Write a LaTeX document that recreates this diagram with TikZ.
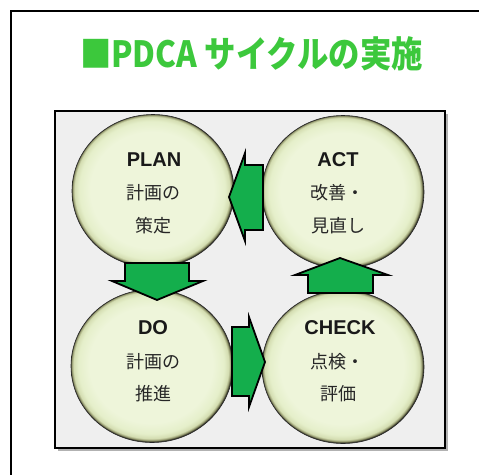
\documentclass[tikz,border=0pt]{standalone}
\usepackage{fontspec}
\setmainfont{Liberation Sans}
\newfontfamily\jp{Noto Sans CJK JP}
\usetikzlibrary{shapes.geometric}
\definecolor{titlegreen}{HTML}{3CC83C}
\definecolor{arrowgreen}{HTML}{14AE4C}
\definecolor{panelgrey}{HTML}{EFEFEF}
\definecolor{cA}{HTML}{EEF5DA}
\definecolor{cB}{HTML}{E5EFCA}
\definecolor{cC}{HTML}{D3DCB0}
\definecolor{cE}{HTML}{8C9066}
\definecolor{cD}{HTML}{2A2A1E}
\pgfdeclareradialshading{ballg}{\pgfpoint{-0.5bp}{0.5bp}}{%
  color(0bp)=(cA); color(19bp)=(cA); color(22.5bp)=(cB); color(24bp)=(cC);
  color(24.6bp)=(cE); color(25bp)=(cD); color(50bp)=(cD)}
\tikzset{
  x=1pt, y=-1pt,
  ball/.style={ellipse, minimum width=162pt, minimum height=153pt, inner sep=0pt,
    shading=ballg, draw=black!85, line width=0.6pt},
  latlbl/.style={font=\fontsize{20}{20}\selectfont\bfseries, text=black!90, inner sep=0pt},
  jplbl/.style={font=\jp\fontsize{18}{18}\selectfont, text=black!85, inner sep=0pt},
  blockarrow/.style={fill=arrowgreen, draw=black, line width=1.8pt, line join=miter},
}
\begin{document}
\begin{tikzpicture}
\useasboundingbox (0,0) rectangle (479,474);
% outer frame
\draw[line width=1.6pt] (11,11) rectangle (500,500);
% title
\node (title) at (251.5,54) {\jp\bfseries\color{titlegreen}\resizebox{343pt}{!}{\scalebox{1}[1.15]{■PDCA サイクルの実施}}};
% panel
\fill[black!30] (57.5,113.5) rectangle (447.5,450.5);
\draw[fill=panelgrey, line width=1.8pt] (55,111) rectangle (445,448);
% circles
\node[ball] (plan) at (153,191) {};
\node[ball] (act) at (343,192) {};
\node[ball] (do) at (152,366) {};
\node[ball] (check) at (343,367) {};
% labels
\node[latlbl] (planA) at (154,160) {PLAN};
\node[jplbl] (planB) at (153,193) {計画の};
\node[jplbl] (planC) at (153,226) {策定};
\node[latlbl] (actA) at (338,160) {ACT};
\node[jplbl] (actB) at (337,193) {改善・};
\node[jplbl] (actC) at (338,226) {見直し};
\node[latlbl] (doA) at (153,328) {DO};
\node[jplbl] (doB) at (153,362) {計画の};
\node[jplbl] (doC) at (153,394) {推進};
\node[latlbl] (checkA) at (340,328) {CHECK};
\node[jplbl] (checkB) at (337,362) {点検・};
\node[jplbl] (checkC) at (338,394) {評価};
% block arrows
\draw[blockarrow] (263,165) -- (245,165) -- (245,153) -- (229,197) -- (245,241) -- (245,230) -- (263,230) -- cycle;
\draw[blockarrow] (125,263) -- (189,263) -- (189,281) -- (203,281) -- (157,300) -- (112,281) -- (125,281) -- cycle;
\draw[blockarrow] (308,293) -- (373,293) -- (373,275) -- (388,275) -- (340,258) -- (295,275) -- (308,275) -- cycle;
\draw[blockarrow] (232,327) -- (249,327) -- (249,317) -- (265,362) -- (249,407) -- (249,396) -- (232,396) -- cycle;
\end{tikzpicture}
\end{document}
